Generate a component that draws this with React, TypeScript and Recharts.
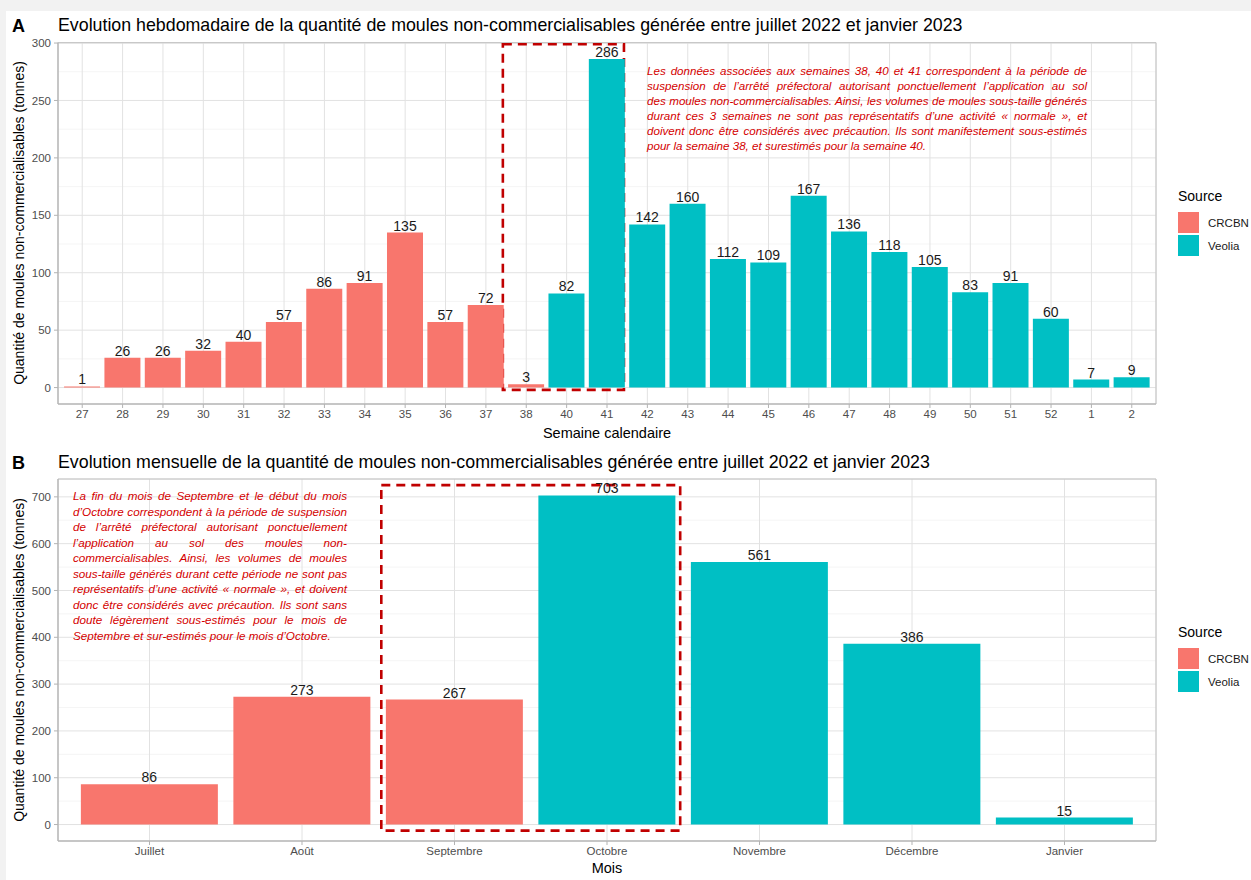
import { BarChart, Bar, XAxis, YAxis, CartesianGrid, Cell, LabelList, ReferenceArea } from 'recharts'

const weeks = ['27', '28', '29', '30', '31', '32', '33', '34', '35', '36', '37', '38', '40', '41', '42', '43', '44', '45', '46', '47', '48', '49', '50', '51', '52', '1', '2']
const weeklyTonnes = [1, 26, 26, 32, 40, 57, 86, 91, 135, 57, 72, 3, 82, 286, 142, 160, 112, 109, 167, 136, 118, 105, 83, 91, 60, 7, 9]
const weeklySource = ['CRCBN', 'CRCBN', 'CRCBN', 'CRCBN', 'CRCBN', 'CRCBN', 'CRCBN', 'CRCBN', 'CRCBN', 'CRCBN', 'CRCBN', 'CRCBN', 'Veolia', 'Veolia', 'Veolia', 'Veolia', 'Veolia', 'Veolia', 'Veolia', 'Veolia', 'Veolia', 'Veolia', 'Veolia', 'Veolia', 'Veolia', 'Veolia', 'Veolia']
const weeklyTicks = [0, 50, 100, 150, 200, 250, 300]
const weeklyMinorTicks = [25, 75, 125, 175, 225, 275]

const months = ['Juillet', 'Août', 'Septembre', 'Octobre', 'Novembre', 'Décembre', 'Janvier']
const monthlyTonnes = [86, 273, 267, 703, 561, 386, 15]
const monthlySource = ['CRCBN', 'CRCBN', 'CRCBN', 'Veolia', 'Veolia', 'Veolia', 'Veolia']
const monthlyTicks = [0, 100, 200, 300, 400, 500, 600, 700]
const monthlyMinorTicks = [50, 150, 250, 350, 450, 550, 650]

const sources = ['CRCBN', 'Veolia']

const weeklyNote = [
  'Les données associées aux semaines 38, 40 et 41 correspondent à la période de',
  'suspension de l’arrêté préfectoral autorisant ponctuellement l’application au sol',
  'des moules non-commercialisables. Ainsi, les volumes de moules sous-taille générés',
  'durant ces 3 semaines ne sont pas représentatifs d’une activité « normale », et',
  'doivent donc être considérés avec précaution. Ils sont manifestement sous-estimés',
  'pour la semaine 38, et surestimés pour la semaine 40.',
]

const monthlyNote = [
  'La fin du mois de Septembre et le début du mois',
  'd’Octobre correspondent à la période de suspension',
  'de l’arrêté préfectoral autorisant ponctuellement',
  'l’application au sol des moules non-',
  'commercialisables. Ainsi, les volumes de moules',
  'sous-taille générés durant cette période ne sont pas',
  'représentatifs d’une activité « normale », et doivent',
  'donc être considérés avec précaution. Ils sont sans',
  'doute légèrement sous-estimés pour le mois de',
  'Septembre et sur-estimés pour le mois d’Octobre.',
]

const COLORS: Record<string, string> = {
  CRCBN: '#F8766D',
  Veolia: '#00BFC4',
}

const FONT = '"Liberation Sans", Arial, sans-serif'
const NOTE_FONT = '"Liberation Sans Narrow", "Liberation Sans", sans-serif'
const NOTE_RED = '#d40000'
const BOX_RED = '#c00000'

interface PanelProps {
  labels: string[]
  values: number[]
  src: string[]
  ticks: number[]
  minorTicks: number[]
  box: { x1: number; x2: number; y1: number; y2: number }
  top: number
  height: number
  plotTop: number
  plotBottom: number
}

function BarPanel({ labels, values, src, ticks, minorTicks, box, top, height, plotTop, plotBottom }: PanelProps) {
  const rows = labels.map((label, i) => ({ idx: i + 1, label, value: values[i], source: src[i] }))
  const max = Math.max(...values)
  // ggplot-style 5% expansion on y, 0.6 on the discrete x axis
  const yDomain = [-max * 0.05, max * 1.05]
  const xDomain = [0.4, labels.length + 0.6]
  const xTicks = rows.map((r) => r.idx)

  return (
    <div style={{ position: 'absolute', left: 0, top, width: 1251, height, overflow: 'hidden' }}>
      <BarChart
        width={1251}
        height={height}
        data={rows}
        margin={{ top: plotTop, right: 95, bottom: 0, left: 0 }}
        barCategoryGap="5%"
        style={{ fontFamily: FONT }}
      >
        <CartesianGrid vertical={false} stroke="#efefef" strokeWidth={0.6} horizontalValues={minorTicks} />
        <CartesianGrid stroke="#e2e2e2" strokeWidth={1} />
        <XAxis
          type="number"
          dataKey="idx"
          domain={xDomain}
          allowDataOverflow
          ticks={xTicks}
          interval={0}
          tickFormatter={(v: number) => labels[v - 1] ?? ''}
          height={height - plotBottom}
          tickSize={4}
          tickMargin={2}
          stroke="#b3b3b3"
          tick={{ fill: '#4d4d4d', fontSize: 11.5 }}
        />
        <YAxis
          type="number"
          domain={yDomain}
          allowDataOverflow
          ticks={ticks}
          interval={0}
          width={58}
          tickSize={4}
          tickMargin={3}
          stroke="#b3b3b3"
          tick={{ fill: '#4d4d4d', fontSize: 11.5 }}
        />
        <Bar dataKey="value" isAnimationActive={false}>
          {rows.map((r) => (
            <Cell key={r.label} fill={COLORS[r.source]} />
          ))}
          <LabelList dataKey="value" position="top" offset={2} fill="#1a1a1a" fontSize={14} />
        </Bar>
        <ReferenceArea
          x1={xDomain[0]}
          x2={xDomain[1]}
          y1={yDomain[0]}
          y2={yDomain[1]}
          ifOverflow="visible"
          fill="none"
          stroke="#c2c2c2"
          strokeWidth={1}
        />
        <ReferenceArea
          x1={box.x1}
          x2={box.x2}
          y1={box.y1}
          y2={box.y2}
          ifOverflow="visible"
          fill="none"
          fillOpacity={0}
          stroke={BOX_RED}
          strokeWidth={2.6}
          strokeDasharray="9 6"
        />
      </BarChart>
    </div>
  )
}

function Legend({ top }: { top: number }) {
  return (
    <div style={{ position: 'absolute', left: 1178, top, fontFamily: FONT }}>
      <div style={{ fontSize: 14, lineHeight: '17px', color: '#000', marginBottom: 6 }}>Source</div>
      {sources.map((s) => (
        <div key={s} style={{ display: 'flex', alignItems: 'center', height: 23 }}>
          <span style={{ width: 21, height: 21, background: COLORS[s], display: 'inline-block' }} />
          <span style={{ fontSize: 11.5, color: '#1a1a1a', marginLeft: 9 }}>{s}</span>
        </div>
      ))}
    </div>
  )
}

function Note({ lines, left, top, width, lineHeight, fontSize }: { lines: string[]; left: number; top: number; width: number; lineHeight: number; fontSize: number }) {
  return (
    <div style={{ position: 'absolute', left, top, width, fontFamily: NOTE_FONT, fontStyle: 'italic', fontSize, color: NOTE_RED }}>
      {lines.map((l, i) => (
        <div
          key={i}
          style={{
            height: lineHeight,
            lineHeight: `${lineHeight}px`,
            whiteSpace: 'nowrap',
            textAlign: 'justify',
            textAlignLast: i === lines.length - 1 ? 'left' : 'justify',
          }}
        >
          {l}
        </div>
      ))}
    </div>
  )
}

function Text({ children, left, top, size, bold, center }: { children: string; left: number; top: number; size: number; bold?: boolean; center?: boolean }) {
  return (
    <div
      style={{
        position: 'absolute',
        left,
        top,
        transform: center ? 'translate(-50%, -50%)' : 'translateY(-50%)',
        fontFamily: FONT,
        fontSize: size,
        fontWeight: bold ? 'bold' : 'normal',
        color: '#000',
        whiteSpace: 'nowrap',
        lineHeight: 1,
      }}
    >
      {children}
    </div>
  )
}

function YTitle({ top }: { top: number }) {
  return (
    <div
      style={{
        position: 'absolute',
        left: 19,
        top,
        transform: 'translate(-50%, -50%) rotate(-90deg)',
        fontFamily: FONT,
        fontSize: 14,
        color: '#000',
        whiteSpace: 'nowrap',
        lineHeight: 1,
      }}
    >
      Quantité de moules non-commercialisables (tonnes)
    </div>
  )
}

export default function App() {
  return (
    <div style={{ position: 'absolute', left: 0, top: 0, width: 1251, height: 880, background: '#f2f2f2', overflow: 'hidden' }}>
      <div style={{ position: 'absolute', left: 6, top: 11, width: 1245, height: 869, background: '#fff' }} />

      <Text left={12} top={26} size={18} bold>A</Text>
      <Text left={58} top={26} size={17.8}>
        Evolution hebdomadaire de la quantité de moules non-commercialisables générée entre juillet 2022 et janvier 2023
      </Text>
      <BarPanel
        labels={weeks}
        values={weeklyTonnes}
        src={weeklySource}
        ticks={weeklyTicks}
        minorTicks={weeklyMinorTicks}
        box={{ x1: 11.42, x2: 14.42, y1: -2, y2: 299 }}
        top={0}
        height={440}
        plotTop={42.7}
        plotBottom={404}
      />
      <YTitle top={223} />
      <Text left={607} top={433} size={14.5} center>Semaine calendaire</Text>
      <Legend top={188} />
      <Note lines={weeklyNote} left={647} top={63} width={440} lineHeight={15} fontSize={11.6} />

      <Text left={12} top={463} size={18} bold>B</Text>
      <Text left={58} top={463} size={17.8}>
        Evolution mensuelle de la quantité de moules non-commercialisables générée entre juillet 2022 et janvier 2023
      </Text>
      <BarPanel
        labels={months}
        values={monthlyTonnes}
        src={monthlySource}
        ticks={monthlyTicks}
        minorTicks={monthlyMinorTicks}
        box={{ x1: 2.52, x2: 4.48, y1: -13, y2: 725 }}
        top={440}
        height={440}
        plotTop={39}
        plotBottom={401}
      />
      <YTitle top={660} />
      <Text left={607} top={868} size={14.5} center>Mois</Text>
      <Legend top={624} />
      <Note lines={monthlyNote} left={73} top={488} width={274} lineHeight={15.5} fontSize={11.7} />
    </div>
  )
}
